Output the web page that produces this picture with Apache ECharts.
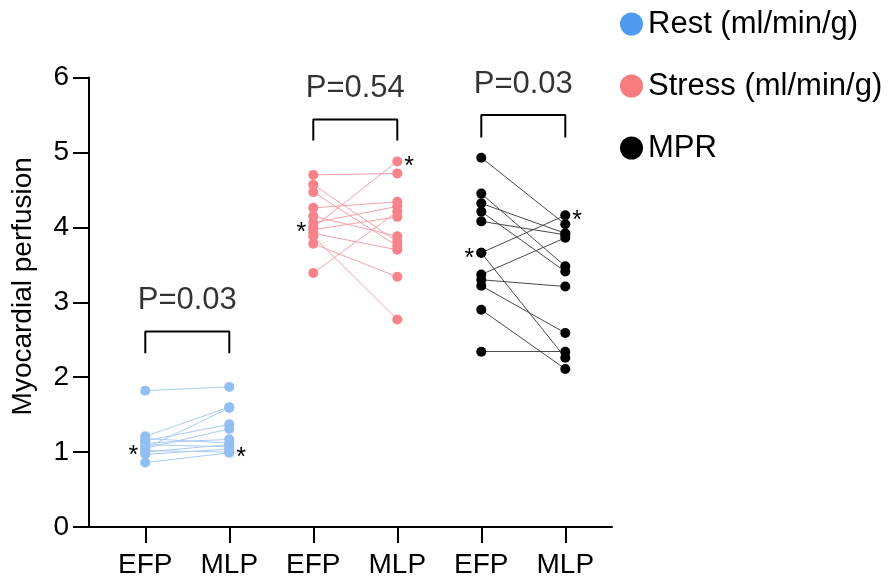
<!DOCTYPE html>
<html>
<head>
<meta charset="utf-8">
<script src="https://cdn.jsdelivr.net/npm/echarts@6/dist/echarts.min.js"></script>
<style>html,body{margin:0;padding:0;background:#fff;}#c{width:888px;height:579px;}</style>
</head>
<body>
<div id="c"></div>
<script>
// ---- data ----
const categories = ['EFP', 'MLP', 'EFP', 'MLP', 'EFP', 'MLP'];
const catPos = [1, 2, 3, 4, 5, 6];

const restEFP = [1.82, 1.21, 1.18, 1.15, 1.12, 1.10, 1.05, 1.05, 1.02, 1.00, 0.97, 0.86];
const restMLP = [1.87, 1.60, 1.12, 1.37, 1.17, 1.07, 1.59, 1.31, 1.00, 1.10, 1.04, 0.99];
const restStar = 8;

const stressEFP = [4.70, 4.57, 4.47, 4.26, 4.15, 4.06, 4.00, 3.97, 3.92, 3.88, 3.78, 3.39];
const stressMLP = [4.72, 3.81, 3.75, 4.34, 3.88, 4.28, 4.88, 4.14, 3.70, 2.77, 3.34, 4.21];
const stressStar = 6;

const mprEFP = [4.93, 4.45, 4.32, 4.21, 4.08, 3.66, 3.66, 3.37, 3.30, 3.22, 2.90, 2.34];
const mprMLP = [4.04, 3.48, 3.92, 3.41, 3.90, 4.16, 2.26, 3.86, 3.21, 2.59, 2.11, 2.34];
const mprStar = 5;

const bracketLeft = [1, 3, 5];
const bracketRight = [2, 4, 6];
const bracketTop = [2.61, 5.44, 5.50];
const bracketBottom = [2.32, 5.16, 5.20];
const pLabels = ['P=0.03', 'P=0.54', 'P=0.03'];
const pLabelY = [3.03, 5.86, 5.91];

const yTicks = [0, 1, 2, 3, 4, 5, 6];

// ---- build ----
const FONT = "'Liberation Sans', Arial, sans-serif";
const groups = [
  { name: 'Rest (ml/min/g)', efp: restEFP, mlp: restMLP, star: restStar, x0: catPos[0], x1: catPos[1],
    point: '#92BEF2', line: '#A9CBF4', legend: '#4E9BF3' },
  { name: 'Stress (ml/min/g)', efp: stressEFP, mlp: stressMLP, star: stressStar, x0: catPos[2], x1: catPos[3],
    point: '#F7838A', line: '#F4A2A6', legend: '#F87B80' },
  { name: 'MPR', efp: mprEFP, mlp: mprMLP, star: mprStar, x0: catPos[4], x1: catPos[5],
    point: '#000000', line: '#4a4a4a', legend: '#000000' }
];

const series = [];
groups.forEach(g => {
  series.push({
    type: 'lines',
    coordinateSystem: 'cartesian2d',
    silent: true,
    z: 2,
    lineStyle: { color: g.line, width: 1, opacity: 1 },
    data: g.efp.map((v, i) => ({ coords: [[g.x0, v], [g.x1, g.mlp[i]]] }))
  });
  const starLabel = (pos) => ({
    show: true, formatter: '*', position: pos, distance: 2,
    fontSize: 25, color: '#000', fontFamily: FONT, offset: [0, 6]
  });
  const pts = [];
  g.efp.forEach((v, i) => {
    const d = { value: [g.x0, v] };
    if (i === g.star) d.label = starLabel('left');
    pts.push(d);
  });
  g.mlp.forEach((v, i) => {
    const d = { value: [g.x1, v] };
    if (i === g.star) d.label = starLabel('right');
    pts.push(d);
  });
  series.push({
    type: 'scatter',
    name: g.name,
    z: 3,
    symbol: 'circle',
    symbolSize: 10,
    itemStyle: { color: g.point, opacity: 1 },
    label: { show: false },
    data: pts
  });
});

// brackets
bracketLeft.forEach((xl, k) => {
  series.push({
    type: 'line',
    silent: true,
    symbol: 'none',
    z: 4,
    lineStyle: { color: '#000', width: 2 },
    data: [[xl, bracketBottom[k]], [xl, bracketTop[k]], [bracketRight[k], bracketTop[k]], [bracketRight[k], bracketBottom[k]]]
  });
});
// P labels
series.push({
  type: 'scatter',
  silent: true,
  symbolSize: 1,
  z: 5,
  itemStyle: { color: 'transparent' },
  label: {
    show: true, position: 'inside', fontSize: 31, color: '#000', fontFamily: FONT,
    formatter: p => pLabels[p.dataIndex]
  },
  data: bracketLeft.map((xl, k) => [(xl + bracketRight[k]) / 2, pLabelY[k]])
});

const chart = echarts.init(document.getElementById('c'), null, { renderer: 'canvas' });
chart.setOption({
  animation: false,
  backgroundColor: '#fff',
  textStyle: { fontFamily: FONT },
  grid: { left: 89, right: 276, top: 77.5, bottom: 51.5, containLabel: false },
  legend: {
    orient: 'vertical',
    left: 615,
    top: 3,
    itemWidth: 23,
    itemHeight: 23,
    itemGap: 30,
    icon: 'circle',
    textStyle: { fontSize: 31, color: '#000', fontFamily: FONT, lineHeight: 32 },
    data: groups.map(g => ({ name: g.name, itemStyle: { color: g.legend } }))
  },
  xAxis: {
    type: 'value',
    min: 0.33,
    max: 6.556,
    splitLine: { show: false },
    axisLine: { show: true, onZero: false, lineStyle: { color: '#000', width: 2 } },
    axisTick: { show: true, length: 16, lineStyle: { color: '#000', width: 2 }, customValues: catPos },
    axisLabel: {
      show: true, customValues: catPos, fontSize: 28, color: '#000', fontFamily: FONT, margin: 24,
      formatter: v => categories[catPos.indexOf(Math.round(v))]
    }
  },
  yAxis: {
    type: 'value',
    min: 0,
    max: 6,
    interval: 1,
    name: 'Myocardial perfusion',
    nameLocation: 'middle',
    nameGap: 52,
    nameTextStyle: { fontSize: 28, color: '#000', fontFamily: FONT, padding: [0, 0, 0, 32] },
    splitLine: { show: false },
    axisLine: { show: true, lineStyle: { color: '#000', width: 2 } },
    axisTick: { show: true, length: 16, lineStyle: { color: '#000', width: 2 } },
    axisLabel: { fontSize: 28, color: '#000', fontFamily: FONT, margin: 20,
      formatter: v => String(yTicks[yTicks.indexOf(v)]) }
  },
  series: series
});
</script>
</body>
</html>
